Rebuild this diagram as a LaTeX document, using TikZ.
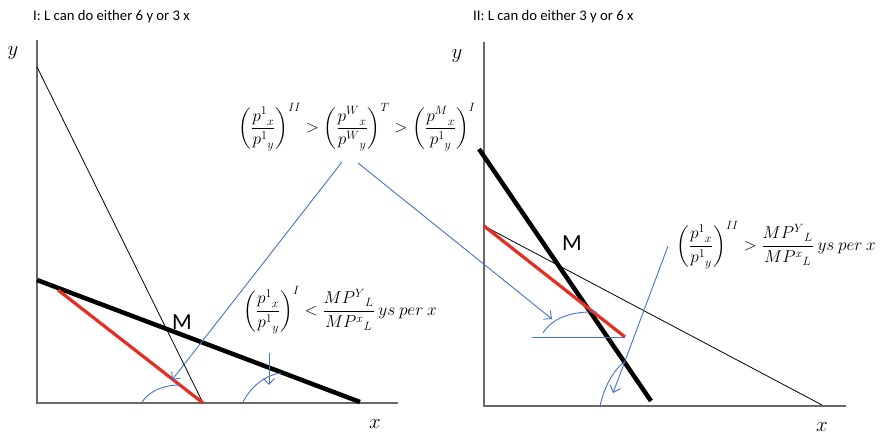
\documentclass[tikz,border=0pt]{standalone}
\usepackage{amsmath}
\usepackage{fontspec}
\setmainfont{Carlito}
\usepackage{tikz}
\usetikzlibrary{arrows.meta, positioning}

\definecolor{lineblue}{RGB}{68,114,196}
\definecolor{linered}{RGB}{229,46,33}
\definecolor{axisgray}{RGB}{105,105,105}

\tikzset{
  axisline/.style={draw=axisgray, line width=1.5pt},
  thinline/.style={draw=black, line width=0.8pt},
  budget/.style={draw=black, line width=4.5pt},
  redline/.style={draw=linered, line width=3.2pt},
  pointer/.style={draw=lineblue, line width=0.9pt, -{Straight Barb[length=6pt,width=11pt]}},
  anglearc/.style={draw=lineblue, line width=0.9pt},
  eqn/.style={font=\fontsize{16.5}{20}\selectfont, inner sep=0pt},
  paneltitle/.style={font=\fontsize{14.7}{17}\selectfont, anchor=base west, inner sep=0pt},
  axislabel/.style={font=\fontsize{21}{24}\selectfont, inner sep=0pt},
  pointlabel/.style={font=\fontsize{23}{26}\selectfont, inner sep=0pt},
}

\begin{document}
\begin{tikzpicture}[x=1pt, y=-1pt]
  \useasboundingbox (0,0) rectangle (880,438);

  % Panel I: axes and lines
  \node[paneltitle] (t1) at (33,21) {I: L can do either 6 y or 3 x};
  \coordinate (o1) at (37,403);
  \coordinate (ytop1) at (37,40);
  \coordinate (xend1) at (398,403);
  \draw[axisline] (ytop1) -- (o1) -- (xend1);
  \node[axislabel] (ylab1) at (13,53) {$y$};
  \node[axislabel] (xlab1) at (375,424) {$x$};

  \coordinate (ppfA) at (37,67);
  \coordinate (ppfB) at (203,403);
  \draw[thinline] (ppfA) -- (ppfB);
  \coordinate (priceA) at (37,280);
  \coordinate (priceB) at (360,402);
  \draw[budget] (priceA) -- (priceB);
  \coordinate (redA) at (58,290);
  \draw[redline] (redA) -- (ppfB);
  \node[pointlabel] (m1) at (182,322) {M};

  % angle marks, panel I
  \coordinate (arcA1) at (142,402);
  \coordinate (arcB1) at (180,385);
  \draw[anglearc] (arcA1) .. controls (150,390) and (165,385) .. (arcB1);
  \coordinate (arcC1) at (243,402);
  \coordinate (arcD1) at (281,373);
  \draw[anglearc] (arcC1) .. controls (252,385) and (266,375) .. (arcD1);

  % Panel II: axes and lines
  \node[paneltitle] (t2) at (473,21) {II: L can do either 3 y or 6 x};
  \coordinate (o2) at (484,406);
  \coordinate (ytop2) at (484,42);
  \coordinate (xend2) at (846,406);
  \draw[axisline] (ytop2) -- (o2) -- (xend2);
  \node[axislabel] (ylab2) at (457,56) {$y$};
  \node[axislabel] (xlab2) at (822,427) {$x$};

  \coordinate (ppfC) at (484,226);
  \coordinate (ppfD) at (822,405);
  \draw[thinline] (ppfC) -- (ppfD);
  \coordinate (priceC) at (479,149);
  \coordinate (priceD) at (651,401);
  \draw[budget] (priceC) -- (priceD);
  \coordinate (redD) at (625,337);
  \draw[redline] (ppfC) -- (redD);
  \node[pointlabel] (m2) at (572,243) {M};

  % angle marks, panel II
  \coordinate (hzA) at (532,337);
  \draw[lineblue, line width=0.9pt] (hzA) -- (redD);
  \coordinate (arcA2) at (543,333);
  \coordinate (arcB2) at (597,312);
  \draw[anglearc] (arcA2) .. controls (552,318) and (572,311) .. (arcB2);
  \coordinate (arcC2) at (600,406);
  \coordinate (arcD2) at (624,362);
  \draw[anglearc] (arcC2) .. controls (604,388) and (612,372) .. (arcD2);

  % relative price conditions
  \node[eqn] (topeq) at (357,127)
    {$\left(\dfrac{{p^1}_x}{{p^1}_y}\right)^{II} > \left(\dfrac{{p^W}_x}{{p^W}_y}\right)^{T} > \left(\dfrac{{p^M}_x}{{p^1}_y}\right)^{I}$};
  \node[eqn] (lefteq) at (340,310)
    {$\left(\dfrac{{p^1}_x}{{p^1}_y}\right)^{I} < \dfrac{{MP^Y}_L}{{MP^x}_L}\ ys\ per\ x$};
  \node[eqn] (righteq) at (776,245)
    {$\left(\dfrac{{p^1}_x}{{p^1}_y}\right)^{II} > \dfrac{{MP^Y}_L}{{MP^x}_L}\ ys\ per\ x$};

  % pointers
  \coordinate (from1) at (342,162);
  \coordinate (tip1) at (172,380);
  \draw[pointer] (from1) -- (tip1);
  \coordinate (from2) at (358,163);
  \coordinate (tip2) at (552,319);
  \draw[pointer] (from2) -- (tip2);
  \coordinate (from3) at (269,353);
  \coordinate (tip3) at (269,385);
  \draw[pointer] (from3) -- (tip3);
  \coordinate (from4) at (668,246);
  \coordinate (tip4) at (613,393);
  \draw[pointer] (from4) -- (tip4);
\end{tikzpicture}
\end{document}
